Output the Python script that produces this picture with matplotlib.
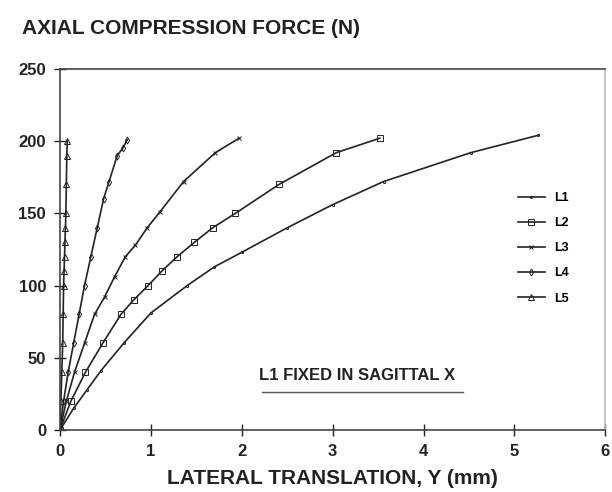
import matplotlib.pyplot as plt

# Force (N) vs lateral translation (mm)
l1_x = [0, 0.15, 0.3, 0.45, 0.7, 1.0, 1.4, 1.7, 2.0, 2.5, 3.0, 3.56, 4.52, 5.26]
l1_y = [0, 15, 28, 41, 60, 81, 100, 113, 123, 140, 156, 172, 192, 204]

l2_x = [0, 0.12, 0.28, 0.47, 0.67, 0.81, 0.97, 1.12, 1.29, 1.48, 1.68, 1.93, 2.41, 3.04, 3.52]
l2_y = [0, 20, 40, 60, 80, 90, 100, 110, 120, 130, 140, 150, 170, 192, 202]

l3_x = [0, 0.07, 0.16, 0.27, 0.38, 0.49, 0.6, 0.72, 0.83, 0.96, 1.1, 1.36, 1.71, 1.97]
l3_y = [0, 20, 40, 60, 80, 92, 106, 120, 128, 140, 151, 172, 192, 202]

l4_x = [0, 0.04, 0.09, 0.15, 0.21, 0.27, 0.34, 0.41, 0.48, 0.54, 0.63, 0.69, 0.74]
l4_y = [0, 20, 40, 60, 80, 100, 120, 140, 160, 172, 190, 195, 201]

l5_x = [0, 0.01, 0.02, 0.03, 0.035, 0.04, 0.045, 0.05, 0.055, 0.06, 0.065, 0.07, 0.075, 0.08]
l5_y = [0, 20, 40, 60, 80, 100, 110, 120, 130, 140, 150, 170, 190, 200]

labels = ['L1', 'L2', 'L3', 'L4', 'L5']
x_ticks = [0, 1, 2, 3, 4, 5, 6]
y_ticks = [0, 50, 100, 150, 200, 250]

plt.rcParams['font.family'] = ['Liberation Sans', 'DejaVu Sans']
ink = '#222222'

fig = plt.figure(figsize=(6.12, 4.92), dpi=100)
ax = fig.add_axes([0.098, 0.126, 0.891, 0.734])

series = [
    (l1_x, l1_y, '.', 3),
    (l2_x, l2_y, 's', 4),
    (l3_x, l3_y, 'x', 3.5),
    (l4_x, l4_y, 'd', 3.5),
    (l5_x, l5_y, '^', 4),
]
for (xs, ys, m, ms), lab in zip(series, labels):
    ax.plot(xs, ys, color=ink, lw=1.2, marker=m, ms=ms, mfc='none',
            mec=ink, mew=0.7, label=lab)

ax.set_xlim(0, 6)
ax.set_ylim(0, 250)
ax.set_xticks(x_ticks)
ax.set_yticks(y_ticks)
ax.tick_params(direction='inout', length=8, width=1, colors=ink,
               labelsize=12, pad=6)
for lbl in ax.get_xticklabels() + ax.get_yticklabels():
    lbl.set_fontweight('bold')
for sp in ax.spines.values():
    sp.set_color('#444444')
    sp.set_linewidth(1.2)
ax.spines['right'].set_color('#bbbbbb')

fig.text(0.036, 0.942, 'AXIAL COMPRESSION FORCE (N)', fontsize=15,
         fontweight='bold', color=ink, va='center')
ax.set_xlabel('LATERAL TRANSLATION, Y (mm)', fontsize=15, fontweight='bold',
              color=ink, labelpad=7)

ax.text(3.27, 38, 'L1 FIXED IN SAGITTAL X', fontsize=12, fontweight='bold',
        color=ink, ha='center', va='center')
ax.plot([2.22, 4.43], [26, 26], color='#555555', lw=1)

leg = ax.legend(loc='upper left', bbox_to_anchor=(0.82, 0.69), frameon=False,
                fontsize=9, handlelength=2.1, labelspacing=1.05)
for t in leg.get_texts():
    t.set_fontweight('bold')

fig.savefig('out.png', dpi=100)
